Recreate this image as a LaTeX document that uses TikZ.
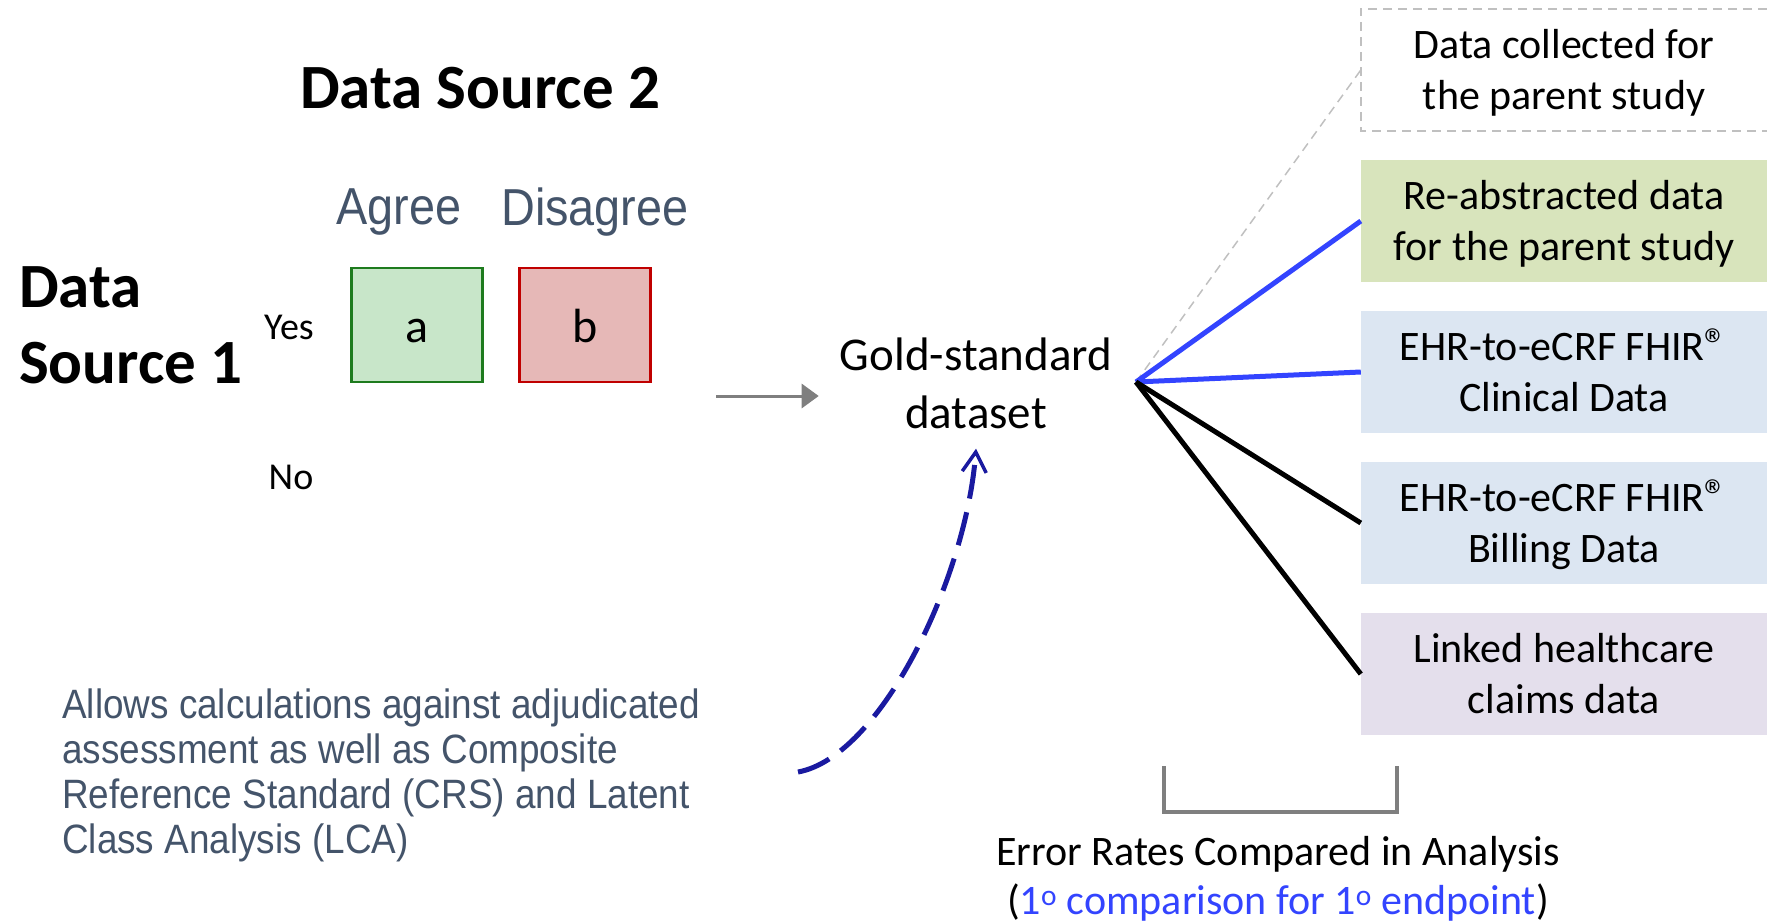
\documentclass[tikz,border=0pt]{standalone}
\usepackage{fontspec}
\setmainfont{Carlito}
\newfontfamily\arialn[FakeStretch=0.9]{Liberation Sans}
\usetikzlibrary{arrows.meta}
\definecolor{slate}{HTML}{44546A}
\definecolor{brightblue}{HTML}{3344FF}
\definecolor{navyarrow}{HTML}{1A1AA0}
\definecolor{midgray}{HTML}{7F7F7F}
\definecolor{lightgray}{HTML}{C0C0C0}
\definecolor{agreefill}{HTML}{C8E6C9}
\definecolor{agreeline}{HTML}{1E7B1E}
\definecolor{disfill}{HTML}{E6B8B7}
\definecolor{disline}{HTML}{C00000}
\definecolor{greenfill}{HTML}{D8E4BC}
\definecolor{bluefill}{HTML}{DCE6F2}
\definecolor{purplefill}{HTML}{E4DFEC}
\newcommand{\topstrut}{\rule{0pt}{39pt}}
\newcommand{\botstrut}{\rule[-12pt]{0pt}{12pt}}
\newcommand{\regmark}{{\fontsize{46}{46}\selectfont ®}}
\begin{document}
\begin{tikzpicture}[x=1pt,y=-1pt,
  srcbox/.style={minimum width=406pt, minimum height=122pt, inner sep=0pt, align=center,
    font=\fontsize{42}{51}\selectfont},
  cellbox/.style={minimum width=131pt, minimum height=114pt, inner sep=0pt, line width=2.5pt,
    text height=34pt, text depth=0pt, font=\fontsize{48}{58}\selectfont},
  headlbl/.style={font=\arialn\fontsize{52}{60}\selectfont, text=slate, inner sep=0pt},
  rowlbl/.style={font=\fontsize{38}{46}\selectfont, inner sep=0pt},
  bigbold/.style={font=\bfseries\fontsize{63}{76}\selectfont, inner sep=0pt},
  blueline/.style={draw=brightblue, line width=5pt},
  blackline/.style={draw=black, line width=5pt},
  faintline/.style={draw=lightgray, line width=1.5pt, dash pattern=on 9pt off 6pt},
]
\useasboundingbox (0,0) rectangle (1767,922);
\clip (0,0) rectangle (1767,922);

% left: contingency header
\node[bigbold] (ds2) at (480,88) {Data Source 2};
\node[bigbold, align=left, anchor=west] (ds1) at (19,325) {Data\\Source 1};
\node[headlbl] (agree) at (399,212) {Agree};
\node[headlbl] (disagree) at (595,212) {Disagree};
\node[rowlbl] (yes) at (289,327) {Yes};
\node[rowlbl] (no) at (291,477) {No};
\node[cellbox, draw=agreeline, fill=agreefill] (ca) at (417,325) {a};
\node[cellbox, draw=disline, fill=disfill] (cb) at (585,325) {b};

% gold-standard
\node[align=center, font=\fontsize{47}{58}\selectfont, inner xsep=21pt, inner ysep=20pt] (gold) at (976,383) {Gold-standard\\dataset};
\coordinate (arrS) at (716,396);
\draw[draw=midgray, line width=3pt, -{Triangle[length=17pt,width=24pt]}] (arrS) -- (arrS -| gold.west);

% right boxes
\node[srcbox] (d0) at (1564,70) {\topstrut Data collected for\\the parent study\botstrut};
\draw[lightgray, line width=1.5pt, dash pattern=on 9pt off 6pt]
  ([xshift=30pt]d0.north east) -- (d0.north west) -- (d0.south west) -- ([xshift=30pt]d0.south east);
\node[srcbox, fill=greenfill] (d1) at (1564,221) {\topstrut Re-abstracted data\\for the parent study\botstrut};
\node[srcbox, fill=bluefill] (d2) at (1564,372) {\topstrut EHR-to-eCRF FHIR\regmark\\Clinical Data\botstrut};
\node[srcbox, fill=bluefill] (d3) at (1564,523) {\topstrut EHR-to-eCRF FHIR\regmark\\Billing Data\botstrut};
\node[srcbox, fill=purplefill] (d4) at (1564,674) {\topstrut Linked healthcare\\claims data\botstrut};

\coordinate (hub) at (1136,382);
\draw[faintline] (hub) -- (d0.west);
\draw[blueline] (hub) -- (d1.west);
\draw[blueline] (hub) -- (d2.west);
\draw[blackline] (hub) -- (d3.west);
\draw[blackline] (hub) -- (d4.west);

% bracket and caption
\draw[midgray, line width=4.5pt] (1164,766) -- (1164,812) -- (1397,812) -- (1397,766);
\node[align=center, font=\fontsize{42}{49}\selectfont, inner sep=0pt] (err) at (1278,879)
  {Error Rates Compared in Analysis\\(\textcolor{brightblue}{1\textsuperscript{o} comparison for 1\textsuperscript{o} endpoint})};

% note and dashed arrow
\node[align=left, anchor=west, font=\arialn\fontsize{41}{45}\selectfont, text=slate, inner sep=0pt] (note) at (62,775)
  {Allows calculations against adjudicated\\assessment as well as Composite\\Reference Standard (CRS) and Latent\\Class Analysis (LCA)};
\coordinate (curveS) at (798,772);
\draw[navyarrow, line width=5pt, dash pattern=on 34pt off 14pt,
  -{Straight Barb[length=20pt,width=24pt,line width=3.5pt]}]
  (curveS) .. controls (880,757) and (966,580) .. (gold.south);
\end{tikzpicture}
\end{document}
